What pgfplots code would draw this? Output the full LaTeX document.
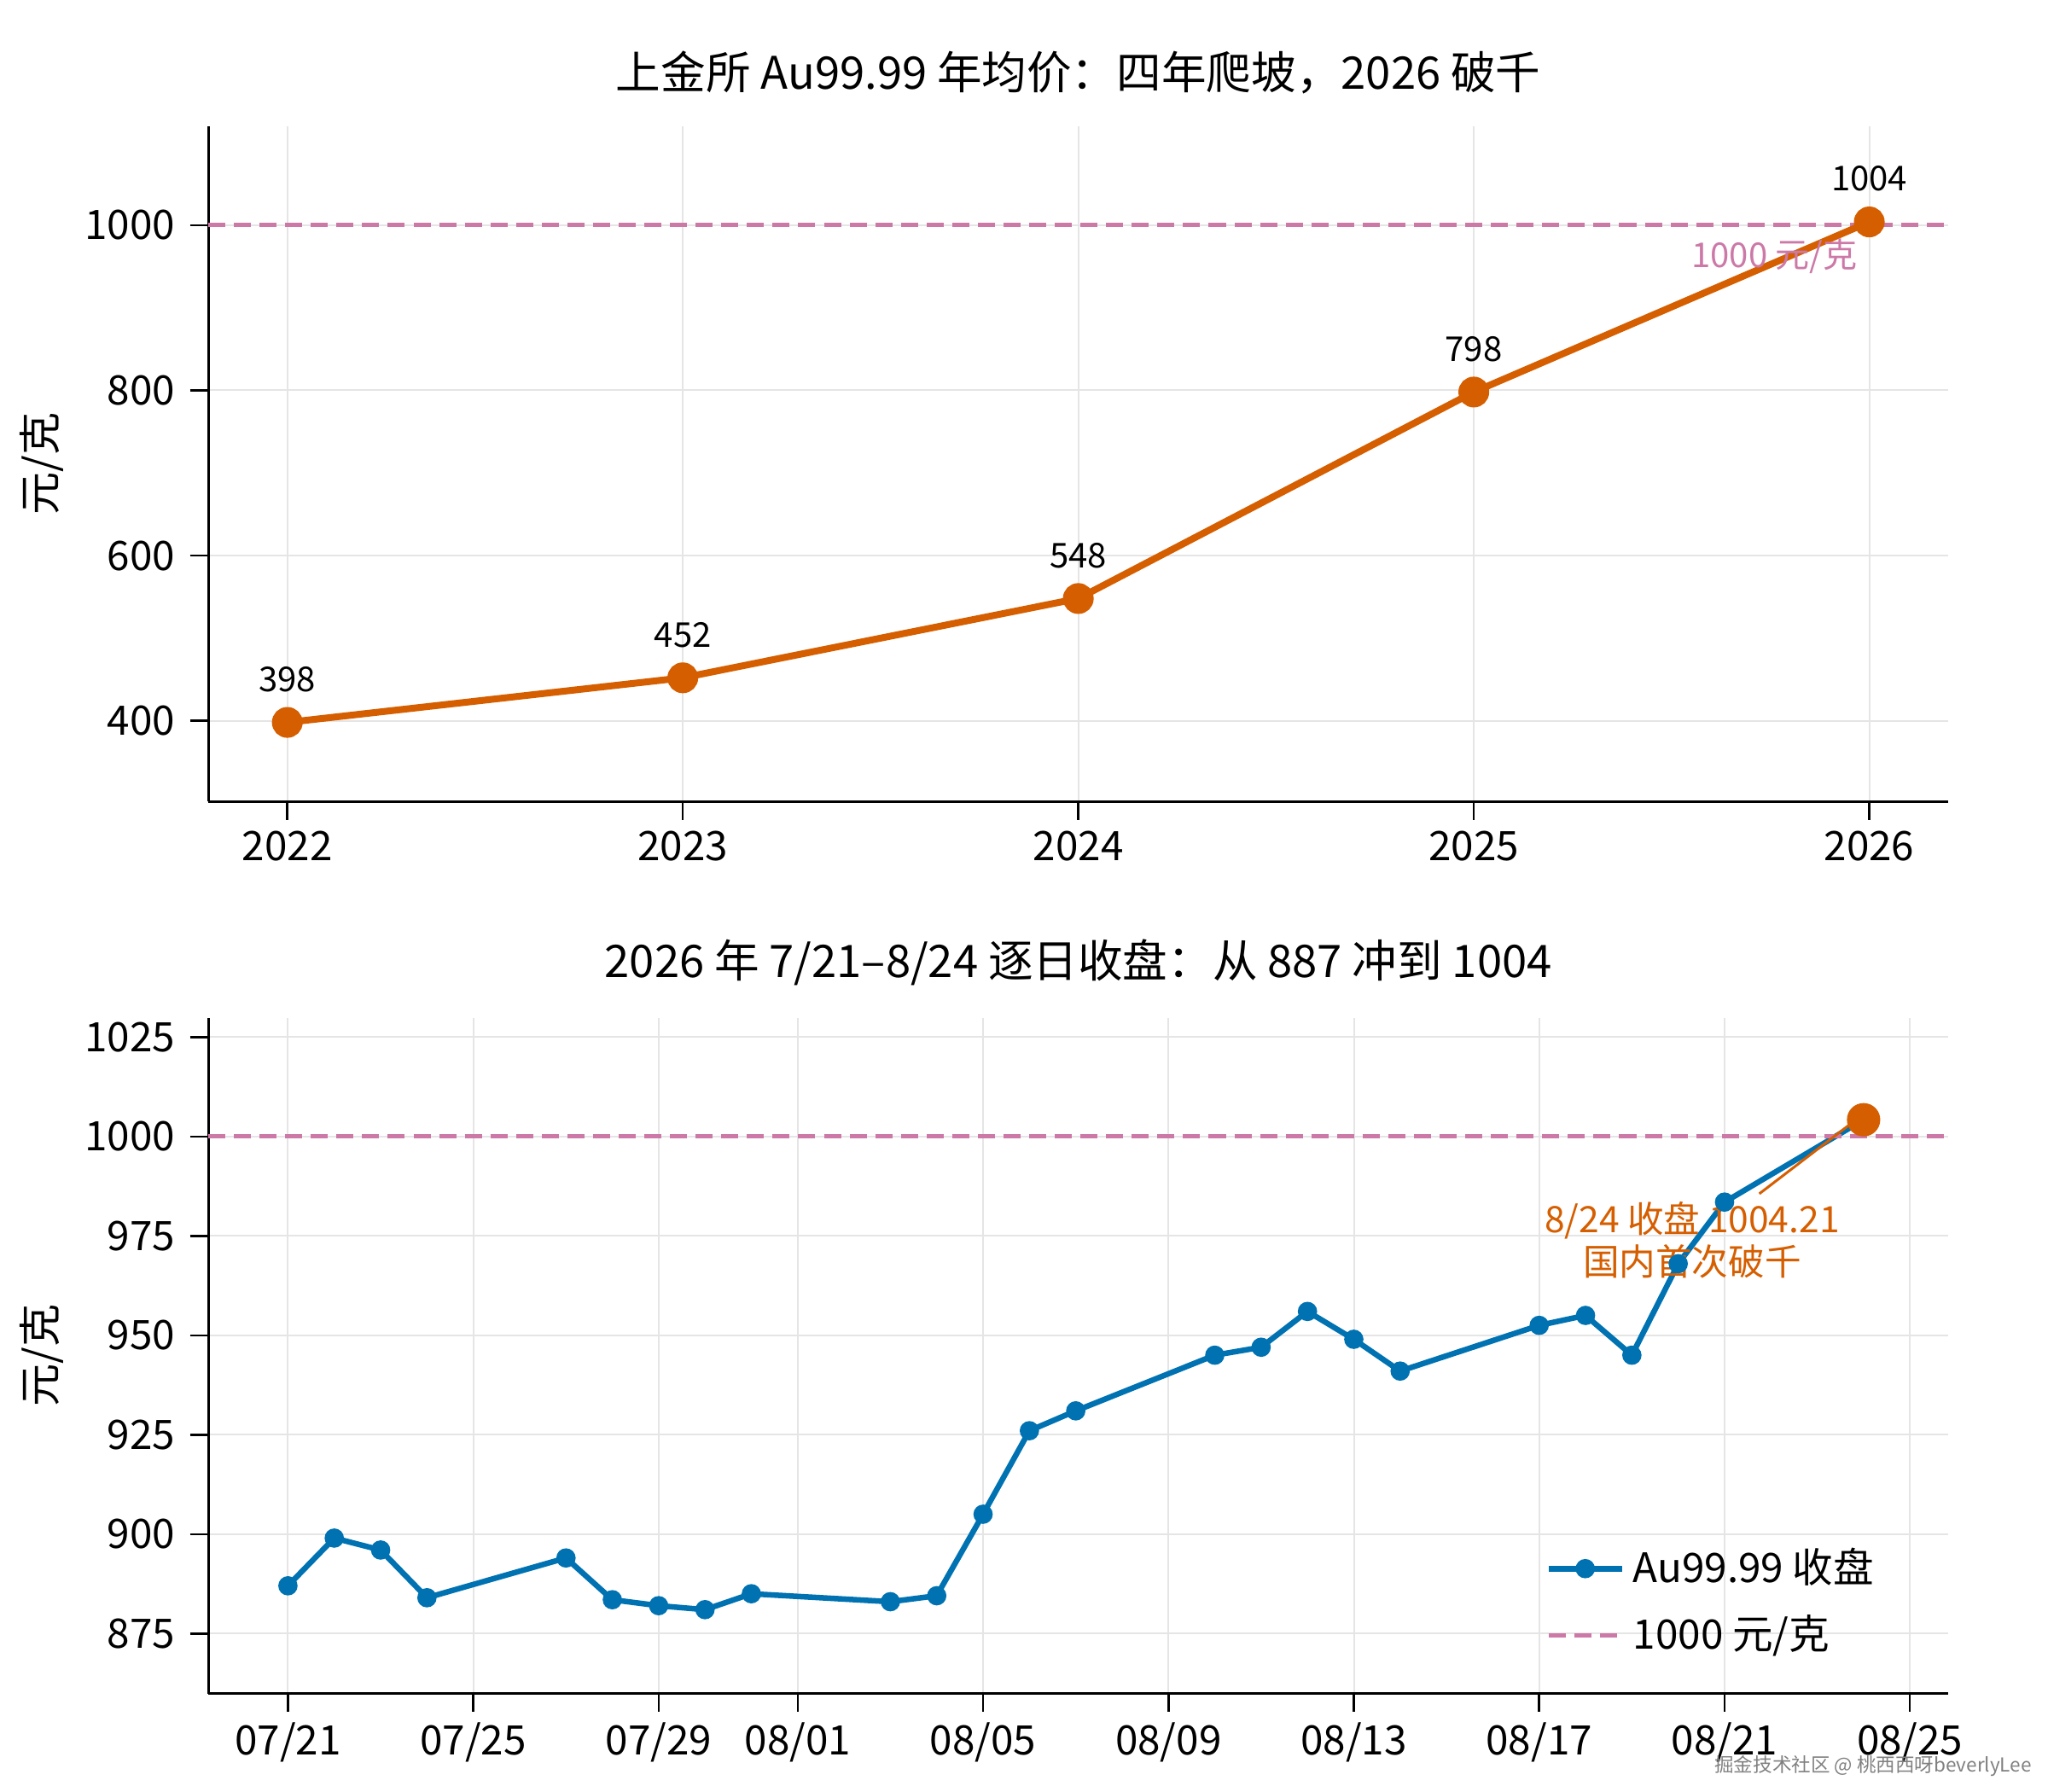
\documentclass[border=0pt]{standalone}
\usepackage{pgfplots}
\pgfplotsset{compat=1.18}
\usepackage{fontspec}
\setmainfont{Noto Sans CJK SC}
\definecolor{cor}{HTML}{D55E00}
\definecolor{cbl}{HTML}{0072B2}
\definecolor{cpk}{HTML}{CC79A7}
\begin{document}
\begin{tikzpicture}
\path (-48.7pt,29.5pt) rectangle (430.3pt,-389.5pt);
\pgfplotsset{every axis/.append style={
  scale only axis, width=407pt, height=158pt, anchor=north west,
  axis lines=left, axis line style={-, line width=0.6pt},
  grid=major, grid style={gray!20, line width=0.4pt},
  tick style={black, line width=0.5pt}, tick align=outside,
  ticklabel style={font=\fontsize{9.5}{10}\selectfont},
  yticklabel style={/pgf/number format/1000 sep={}},
  /pgf/number format/assume math mode=true,
  title style={font=\fontsize{10.5}{12}\selectfont, yshift=-2pt},
  ylabel style={font=\fontsize{10}{12}\selectfont},
}}
\begin{axis}[at={(0,0)},
  title={上金所 Au99.99 年均价：四年爬坡，2026 破千},
  xmin=2021.8, xmax=2026.2, ymin=302, ymax=1120,
  xtick={2022,2023,2024,2025,2026}, ytick={400,600,800,1000},
  xticklabel style={/pgf/number format/1000 sep={}, yshift=1pt},
  ylabel={元/克}, ylabel shift=-2pt]
\addplot[cpk, line width=1pt, dash pattern=on 4pt off 2pt] coordinates {(2021.8,1000) (2026.2,1000)};
\addplot[cor, line width=1.6pt, mark=*, mark size=2.8pt,
  nodes near coords, point meta=explicit symbolic,
  every node near coord/.append style={black, font=\fontsize{8}{9}\selectfont, yshift=3pt}]
  coordinates {(2022,398)[398] (2023,452)[452] (2024,548)[548] (2025,798)[798] (2026,1004)[1004]};
\node[cpk, font=\fontsize{8}{9}\selectfont] at (axis cs:2025.76,963) {1000 元/克};
\end{axis}
\begin{axis}[at={(0,-208.6pt)},
  title={2026 年 7/21–8/24 逐日收盘：从 887 冲到 1004},
  xmin=-1.72, xmax=35.83, ymin=859.9, ymax=1029.8,
  xtick={0,4,8,11,15,19,23,27,31,35},
  xticklabels={07/21,07/25,07/29,08/01,08/05,08/09,08/13,08/17,08/21,08/25},
  xticklabel style={yshift=1pt},
  ytick={875,900,925,950,975,1000,1025},
  ylabel={元/克}, ylabel shift=-2pt,
  legend pos=south east, legend style={draw=none, fill=none, font=\fontsize{9.5}{11}\selectfont, row sep=2pt},
  legend cell align=left]
\addplot[cbl, line width=1.3pt, mark=*, mark size=1.6pt] coordinates {
(0,887) (1,899) (2,896) (3,884) (6,894) (7,883.5) (8,882) (9,881) (10,885)
(13,883) (14,884.5) (15,905) (16,926) (17,931) (20,945) (21,947) (22,956)
(23,949) (24,941) (27,952.5) (28,955) (29,945) (30,968) (31,983.5) (34,1004.21)};
\addlegendentry{Au99.99 收盘}
\addplot[cpk, line width=1pt, dash pattern=on 4pt off 2pt] coordinates {(-1.72,1000) (35.83,1000)};
\addlegendentry{1000 元/克}
\addplot[cor, only marks, mark=*, mark size=3.7pt, forget plot] coordinates {(34,1004.21)};
\draw[cor, line width=0.6pt] (axis cs:31.75,985.6) -- (axis cs:33.7,1003);
\node[cor, font=\fontsize{8.5}{10}\selectfont, align=center] at (axis cs:30.3,974) {8/24 收盘 1004.21\\国内首次破千};
\end{axis}
\node[gray, font=\fontsize{4.5}{5}\selectfont, anchor=south east] at (430pt,-389.5pt) {掘金技术社区 @ 桃西西呀beverlyLee};
\end{tikzpicture}
\end{document}
